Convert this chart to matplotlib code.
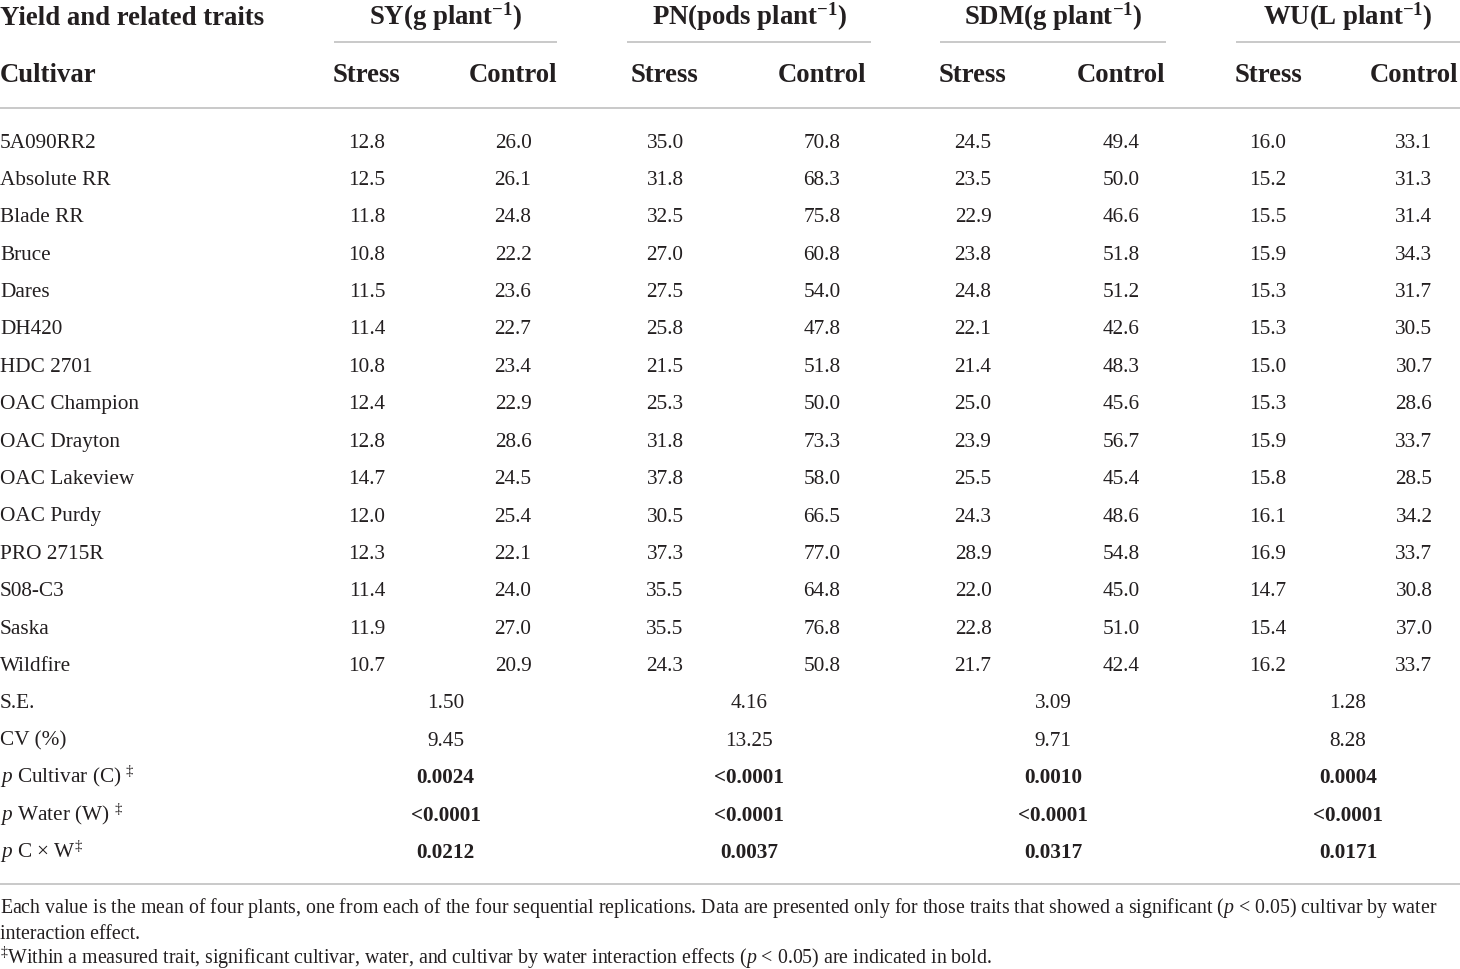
import matplotlib
matplotlib.use("Agg")
import matplotlib.pyplot as plt

plt.rcParams['font.family'] = ['Liberation Serif', 'DejaVu Serif']
plt.rcParams['mathtext.fontset'] = 'custom'
plt.rcParams['mathtext.rm'] = 'Liberation Serif'
plt.rcParams['mathtext.it'] = 'Liberation Serif:italic'
plt.rcParams['mathtext.bf'] = 'Liberation Serif:bold'

# table data
cultivars = ['5A090RR2', 'Absolute RR', 'Blade RR', 'Bruce', 'Dares', 'DH420', 'HDC 2701',
             'OAC Champion', 'OAC Drayton', 'OAC Lakeview', 'OAC Purdy', 'PRO 2715R',
             'S08-C3', 'Saska', 'Wildfire']
sy_stress = ['12.8', '12.5', '11.8', '10.8', '11.5', '11.4', '10.8', '12.4', '12.8', '14.7', '12.0', '12.3', '11.4', '11.9', '10.7']
sy_control = ['26.0', '26.1', '24.8', '22.2', '23.6', '22.7', '23.4', '22.9', '28.6', '24.5', '25.4', '22.1', '24.0', '27.0', '20.9']
pn_stress = ['35.0', '31.8', '32.5', '27.0', '27.5', '25.8', '21.5', '25.3', '31.8', '37.8', '30.5', '37.3', '35.5', '35.5', '24.3']
pn_control = ['70.8', '68.3', '75.8', '60.8', '54.0', '47.8', '51.8', '50.0', '73.3', '58.0', '66.5', '77.0', '64.8', '76.8', '50.8']
sdm_stress = ['24.5', '23.5', '22.9', '23.8', '24.8', '22.1', '21.4', '25.0', '23.9', '25.5', '24.3', '28.9', '22.0', '22.8', '21.7']
sdm_control = ['49.4', '50.0', '46.6', '51.8', '51.2', '42.6', '48.3', '45.6', '56.7', '45.4', '48.6', '54.8', '45.0', '51.0', '42.4']
wu_stress = ['16.0', '15.2', '15.5', '15.9', '15.3', '15.3', '15.0', '15.3', '15.9', '15.8', '16.1', '16.9', '14.7', '15.4', '16.2']
wu_control = ['33.1', '31.3', '31.4', '34.3', '31.7', '30.5', '30.7', '28.6', '33.7', '28.5', '34.2', '33.7', '30.8', '37.0', '33.7']

traits = [r'SY(g plant$^{\mathbf{-1}}$)', r'PN(pods plant$^{\mathbf{-1}}$)',
          r'SDM(g plant$^{\mathbf{-1}}$)', r'WU(L plant$^{\mathbf{-1}}$)']
stat_labels = ['S.E.', 'CV (%)', r'$\mathit{p}$ Cultivar (C) $^{‡}$',
               r'$\mathit{p}$ Water (W) $^{‡}$', r'$\mathit{p}$ C × W$^{‡}$']
se_vals = ['1.50', '4.16', '3.09', '1.28']
cv_vals = ['9.45', '13.25', '9.71', '8.28']
p_cultivar = ['0.0024', '<0.0001', '0.0010', '0.0004']
p_water = ['<0.0001', '<0.0001', '<0.0001', '<0.0001']
p_cxw = ['0.0212', '0.0037', '0.0317', '0.0171']

footnote1 = (r'Each value is the mean of four plants, one from each of the four sequential replications. '
             r'Data are presented only for those traits that showed a significant ($\mathit{p}$ < 0.05) cultivar by water')
footnote2 = 'interaction effect.'
footnote3 = (r'$^{‡}$Within a measured trait, significant cultivar, water, and cultivar by water interaction '
             r'effects ($\mathit{p}$ < 0.05) are indicated in bold.')

W, H = 1460, 969
fig = plt.figure(figsize=(W / 100, H / 100), dpi=100)
ax = fig.add_axes([0, 0, 1, 1])
ax.set_xlim(0, W)
ax.set_ylim(H, 0)
ax.axis('off')

line_col = '#c9c9c9'
txt_col = '#231f20'
hdr_fs = 19.3
body_fs = 15.3
note_fs = 14.3

groups = [(334, 557), (627, 871), (940, 1166), (1236, 1460)]
sub_x = [(367, 513), (665, 822), (973, 1121), (1268, 1414)]

# header
ax.text(0, 25, 'Yield and related traits', fontsize=hdr_fs, fontweight='bold', color=txt_col, va='baseline')
ax.text(0, 82, 'Cultivar', fontsize=hdr_fs, fontweight='bold', color=txt_col, va='baseline')
for (x0, x1), (xs, xc), name in zip(groups, sub_x, traits):
    ax.text((x0 + x1) / 2, 25, name, fontsize=hdr_fs, fontweight='bold', color=txt_col,
            ha='center', va='baseline')
    ax.plot([x0, x1], [42, 42], color=line_col, lw=1.4, solid_capstyle='butt')
    ax.text(xs, 82, 'Stress', fontsize=hdr_fs, fontweight='bold', color=txt_col, ha='center', va='baseline')
    ax.text(xc, 82, 'Control', fontsize=hdr_fs, fontweight='bold', color=txt_col, ha='center', va='baseline')
ax.plot([0, W], [108, 108], color=line_col, lw=1.4, solid_capstyle='butt')

# cultivar rows
row_h = 37.4
y0 = 147.5
cols = [sy_stress, sy_control, pn_stress, pn_control, sdm_stress, sdm_control, wu_stress, wu_control]
xs_all = [x for pair in sub_x for x in pair]
for i, name in enumerate(cultivars):
    y = y0 + i * row_h
    ax.text(0, y, name, fontsize=body_fs, color=txt_col, va='baseline')
    for x, col in zip(xs_all, cols):
        ax.text(x, y, col[i], fontsize=body_fs, color=txt_col, ha='center', va='baseline')

# statistics rows
stats = [se_vals, cv_vals, p_cultivar, p_water, p_cxw]
for j, (lab, vals) in enumerate(zip(stat_labels, stats)):
    y = y0 + (len(cultivars) + j) * row_h
    ax.text(0, y, lab, fontsize=body_fs, color=txt_col, va='baseline')
    weight = 'bold' if j >= 2 else 'normal'
    for (x0, x1), v in zip(groups, vals):
        ax.text((x0 + x1) / 2, y, v, fontsize=body_fs, color=txt_col, ha='center', va='baseline',
                fontweight=weight)

ax.plot([0, W], [884, 884], color=line_col, lw=1.4, solid_capstyle='butt')

ax.text(0, 913, footnote1, fontsize=note_fs, color=txt_col, va='baseline')
ax.text(0, 939, footnote2, fontsize=note_fs, color=txt_col, va='baseline')
ax.text(0, 964, footnote3, fontsize=note_fs, color=txt_col, va='baseline')

fig.savefig('out.png', dpi=100)
